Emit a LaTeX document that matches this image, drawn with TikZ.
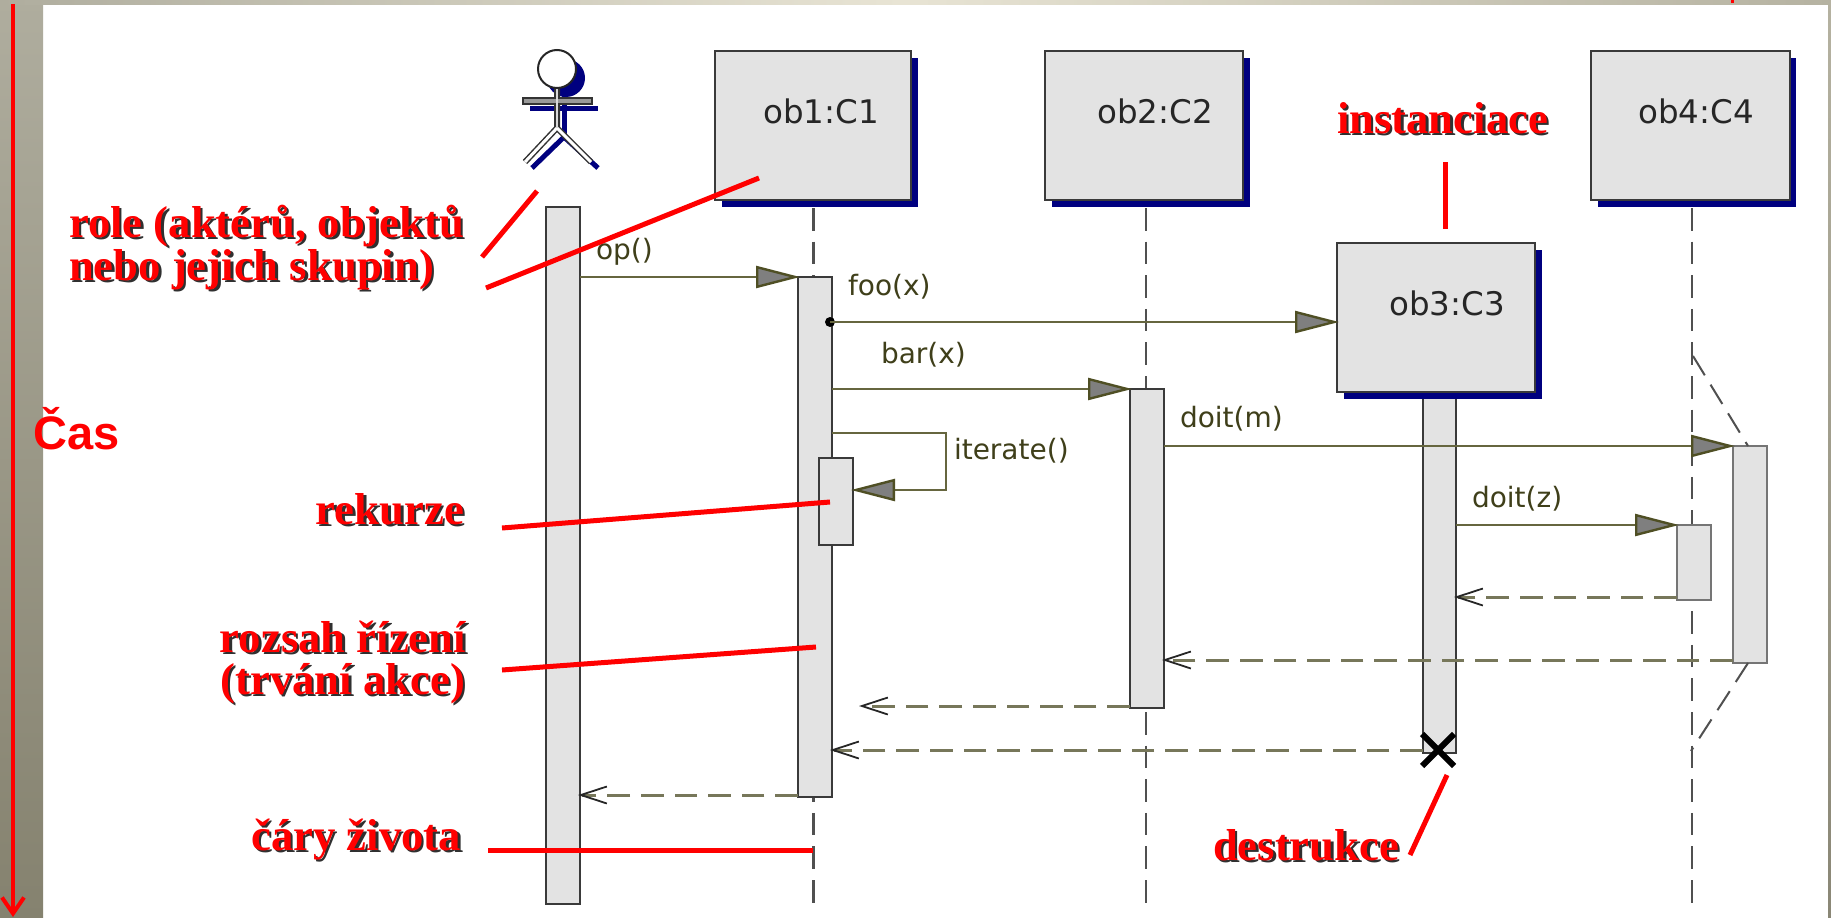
\documentclass[tikz,border=0pt]{standalone}
\usepackage{fontspec}
\setmainfont{Liberation Serif}
\newfontfamily\dvfont{DejaVu Sans}
\newfontfamily\lsfont{Liberation Sans}
\usetikzlibrary{arrows.meta}
\definecolor{boxfill}{HTML}{E3E3E3}
\definecolor{boxline}{HTML}{3A3A3A}
\definecolor{shadowblue}{HTML}{00007F}
\definecolor{msgline}{HTML}{66663F}
\definecolor{retline}{HTML}{77775A}
\definecolor{msgtext}{HTML}{3F3F1A}
\definecolor{tipfill}{HTML}{7F7F7F}
\definecolor{tipline}{HTML}{4F4F24}
\definecolor{txtshadow}{HTML}{303030}
\definecolor{frameA}{HTML}{AFAD9E}
\definecolor{frameB}{HTML}{85826F}
\definecolor{frameC}{HTML}{E8E4D4}
\definecolor{frameD}{HTML}{B5B2A1}
\definecolor{frameE}{HTML}{8A8776}
\definecolor{lifegray}{HTML}{505050}
\tikzset{
  x=1pt,y=-1pt,
  rectnode/.style={rectangle,inner sep=0pt,outer sep=0pt},
  objbox/.style={rectnode,draw=boxline,fill=boxfill,line width=2.2pt},
  objtext/.style={inner sep=0pt,font=\dvfont\fontsize{32.5}{32.5}\selectfont,text=black!85},
  objshadow/.style={rectnode,fill=shadowblue},
  actbar/.style={rectnode,draw=boxline,fill=boxfill,line width=2pt},
  actbarlight/.style={rectnode,draw=boxline!70,fill=boxfill,line width=1.6pt},
  lifeline/.style={draw=lifegray,line width=2.4pt,dash pattern=on 22.6pt off 11pt},
  msgarrow/.style={draw=msgline,line width=2.6pt,shorten >=-2pt,-{Triangle[length=44pt,width=22pt,fill=tipfill,color=tipline,line width=2.4pt]}},
  retarrow/.style={draw=retline,line width=3pt,dash pattern=on 22.6pt off 11pt,shorten >=-2pt,-{Straight Barb[length=26pt,width=17pt,color=black!85,line width=1.8pt]}},
  msglabel/.style={inner sep=0pt,outer sep=0pt,anchor=west,text=msgtext,font=\dvfont\fontsize{28}{28}\selectfont},
  redline/.style={draw=red,line width=5pt},
  redtxt/.style={inner sep=0pt,outer sep=0pt,text=red,font=\bfseries\fontsize{44.7}{44.7}\selectfont},
  shadowtxt/.style={inner sep=0pt,outer sep=0pt,text=txtshadow,font=\bfseries\fontsize{44.7}{44.7}\selectfont},
}
\newcommand{\rectat}[6]{%
  \node[#1,minimum width={(#5-#3)*1pt},minimum height={(#6-#4)*1pt}] (#2) at ({(#3+#5)/2},{(#4+#6)/2}) {};}
\newcommand{\redlabel}[5]{%
  \node[shadowtxt,anchor=#2] (#1s) at ({#3+2.5},{#4+2.5}) {#5};
  \node[redtxt,anchor=#2] (#1) at (#3,#4) {#5};}
\begin{document}
\begin{tikzpicture}
\useasboundingbox (0,0) rectangle (1831,918);
\fill[white] (0,0) rectangle (1831,918);
% slide frame
\shade[top color=frameA,bottom color=frameB] (0,0) rectangle (43,918);
\shade[left color=frameA,right color=frameC] (0,0) rectangle (900,4);
\shade[left color=frameC,right color=frameD] (900,0) rectangle (1831,4);
\shade[top color=frameD,bottom color=frameE] (1828,0) rectangle (1831,918);
% lifelines
\coordinate (l1t) at (813.5,208); \coordinate (l1b) at (813.5,903);
\coordinate (l2t) at (1146,208);  \coordinate (l2b) at (1146,903);
\coordinate (l4t) at (1692,208);  \coordinate (l4b) at (1692,903);
\draw[lifeline] (l1t) -- (l1b);
\draw[lifeline] (l2t) -- (l2b);
\draw[lifeline] (l4t) -- (l4b);
% objects
\rectat{objshadow}{s1}{722}{58}{918}{207}
\rectat{objshadow}{s2}{1052}{58}{1250}{207}
\rectat{objshadow}{s4}{1598}{58}{1796}{207}
\rectat{objbox}{ob1}{715}{51}{911}{200}
\rectat{objbox}{ob2}{1045}{51}{1243}{200}
\rectat{objbox}{ob4}{1591}{51}{1790}{200}
\node[objtext] (t1) at (821,111.5) {ob1:C1};
\node[objtext] (t2) at (1155,111.5) {ob2:C2};
\node[objtext] (t4) at (1696,111.5) {ob4:C4};
% actor
\fill[shadowblue] (566,78) circle [radius=19];
\draw[shadowblue,line width=5pt] (564,87) -- (564,137);
\fill[shadowblue] (530,106) rectangle (598,111);
\draw[shadowblue,line width=5pt] (564,137) -- (532,168);
\draw[shadowblue,line width=5pt] (564,137) -- (598,168);
\draw[black!80,line width=6pt] (557,87) -- (557,128) -- (525,162);
\draw[black!80,line width=6pt] (557,128) -- (591,162);
\draw[white,line width=3pt] (525,162) -- (557,128) -- (591,162);
\draw[black!80,fill=black!40,line width=1.5pt] (523,98) rectangle (592,104);
\draw[white!85!black,line width=2.6pt] (557,87) -- (557,128);
\draw[black!85,fill=white,line width=2pt] (557,69) circle [radius=19];
% activations
\rectat{actbar}{a0}{546}{207}{580}{904}
\rectat{actbar}{a1}{798}{277}{832}{797}
\rectat{actbar}{a2}{1130}{389}{1164}{708}
\rectat{actbar}{a3}{1423}{397}{1456}{753}
\rectat{actbarlight}{a4}{1733}{446}{1767}{663}
\rectat{actbarlight}{a5}{1677}{525}{1711}{600}
% ob4 branch lines
\coordinate (b1) at (1693,356); \coordinate (b2) at (1748,446);
\coordinate (b3) at (1748,663); \coordinate (b4) at (1691,751);
\draw[lifeline,line width=2pt] (b1) -- (b2);
\draw[lifeline,line width=2pt] (b3) -- (b4);
% message levels
\coordinate (y1) at (0,277); \coordinate (y2) at (0,322); \coordinate (y3) at (0,389);
\coordinate (y4) at (0,446); \coordinate (y5) at (0,525); \coordinate (y6) at (0,597);
\coordinate (y7) at (0,660); \coordinate (y8) at (0,706); \coordinate (y9) at (0,750);
\coordinate (y10) at (0,795);
\draw[msgarrow] (a0.east |- y1) -- (a1.west |- y1);
\node[circle,fill=black,inner sep=0pt,minimum size=10pt] (dot) at (830,322) {};
\rectat{objshadow}{s3}{1344}{250}{1542}{399}
\rectat{objbox}{ob3}{1337}{243}{1535}{392}
\node[objtext] (t3) at (1447,303) {ob3:C3};
\draw[msgarrow] (dot.center) -- (ob3.west |- y2);
\draw[msgarrow] (a1.east |- y3) -- (a2.west |- y3);
\draw[msgarrow] (a2.east |- y4) -- (a4.west |- y4);
\draw[msgarrow] (a3.east |- y5) -- (a5.west |- y5);
% recursion
\rectat{actbar}{a1r}{819}{458}{853}{545}
\coordinate (r1) at (946,433); \coordinate (r2) at (946,490);
\draw[msgarrow] (a1.east |- r1) -- (r1) -- (r2) -- (a1r.east |- r2);
% returns
\draw[retarrow] (a5.west |- y6) -- (a3.east |- y6);
\draw[retarrow] (a4.west |- y7) -- (a2.east |- y7);
\coordinate (rt3) at (861,706);
\draw[retarrow] (a2.west |- y8) -- (rt3);
\draw[retarrow] (a3.west |- y9) -- (a1.east |- y9);
\draw[retarrow] (a1.west |- y10) -- (a0.east |- y10);
% destruction
\coordinate (xc) at (1438,750);
\draw[black,line width=6pt] ([xshift=-16pt,yshift=16pt]xc) -- ([xshift=16pt,yshift=-16pt]xc);
\draw[black,line width=6pt] ([xshift=-16pt,yshift=-16pt]xc) -- ([xshift=16pt,yshift=16pt]xc);
% message labels
\node[msglabel] (m1) at (596,251.5) {op()};
\node[msglabel] (m2) at (848,286.5) {foo(x)};
\node[msglabel] (m3) at (881,354.5) {bar(x)};
\node[msglabel] (m4) at (1180,418.5) {doit(m)};
\node[msglabel] (m5) at (954,450.5) {iterate()};
\node[msglabel] (m6) at (1472,498.5) {doit(z)};
% time axis
\coordinate (ta) at (13,4); \coordinate (tb) at (13,917);
\draw[red,line width=4pt,-{Straight Barb[length=16pt,width=22pt,line width=4pt]}] (ta) -- (tb);
\coordinate (tm1) at (1732,0); \coordinate (tm2) at (1732,3);
\draw[red,line width=3pt] (tm1) -- (tm2);
\node[inner sep=0pt,anchor=base west,text=red,font=\lsfont\bfseries\fontsize{47}{47}\selectfont] (cas) at (33,449) {Čas};
% red annotations
\redlabel{role1}{base west}{69}{237}{role (aktérů, objektů}
\redlabel{role2}{base west}{69}{280}{nebo jejich skupin)}
\redlabel{inst}{base west}{1337}{133}{instanciace}
\redlabel{rek}{base east}{464}{524}{rekurze}
\redlabel{roz1}{base east}{466}{652}{rozsah řízení}
\redlabel{roz2}{base east}{465}{694}{(trvání akce)}
\redlabel{cary}{base east}{461}{850}{čáry života}
\redlabel{dest}{base west}{1213}{860}{destrukce}
\coordinate (p1a) at (482,257); \coordinate (p1b) at (537,191);
\coordinate (p2a) at (486,288); \coordinate (p2b) at (759,178);
\coordinate (p3a) at (502,528); \coordinate (p3b) at (830,502);
\coordinate (p4a) at (502,670); \coordinate (p4b) at (816,647);
\coordinate (p5a) at (488,850); \coordinate (p5b) at (813,850);
\coordinate (p6a) at (1445,162); \coordinate (p6b) at (1445,229);
\coordinate (p7a) at (1447,775); \coordinate (p7b) at (1410,855);
\draw[redline] (p1a) -- (p1b);
\draw[redline] (p2a) -- (p2b);
\draw[redline] (p3a) -- (p3b);
\draw[redline] (p4a) -- (p4b);
\draw[redline] (p5a) -- (p5b);
\draw[redline] (p6a) -- (p6b);
\draw[redline] (p7a) -- (p7b);
\end{tikzpicture}
\end{document}
